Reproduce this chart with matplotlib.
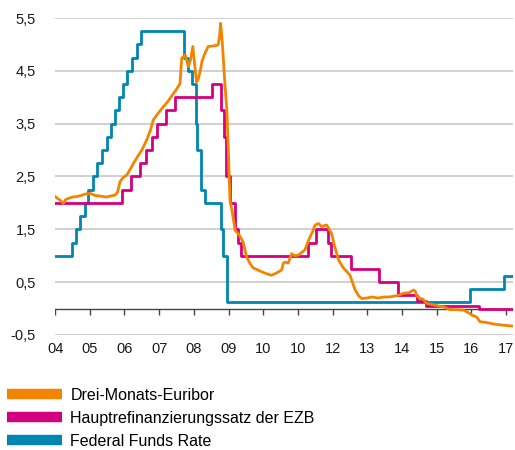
import matplotlib
matplotlib.use("Agg")
import matplotlib.pyplot as plt
from matplotlib.lines import Line2D

plt.rcParams["font.family"] = ["Liberation Sans Narrow", "Liberation Sans", "DejaVu Sans"]

# Federal Funds Rate (target, step changes as decimal years)
fed_x = [2004.00, 2004.49, 2004.61, 2004.72, 2004.86, 2004.96, 2005.09, 2005.22,
         2005.34, 2005.49, 2005.61, 2005.72, 2005.84, 2005.96, 2006.08, 2006.22,
         2006.36, 2006.49, 2007.71, 2007.83, 2007.95, 2008.06, 2008.08, 2008.21,
         2008.33, 2008.77, 2008.83, 2008.96, 2015.96, 2016.95, 2017.20]
fed_y = [1.00, 1.25, 1.50, 1.75, 2.00, 2.25, 2.50, 2.75,
         3.00, 3.25, 3.50, 3.75, 4.00, 4.25, 4.50, 4.75,
         5.00, 5.25, 4.75, 4.50, 4.25, 3.50, 3.00, 2.25,
         2.00, 1.50, 1.00, 0.125, 0.375, 0.625, 0.625]

# Hauptrefinanzierungssatz der EZB
ecb_x = [2004.00, 2005.93, 2006.18, 2006.45, 2006.61, 2006.78, 2006.94, 2007.20,
         2007.45, 2008.52, 2008.79, 2008.87, 2008.94, 2009.05, 2009.19, 2009.27,
         2009.36, 2011.28, 2011.53, 2011.86, 2011.95, 2012.52, 2013.35, 2013.87,
         2014.44, 2014.69, 2016.21, 2017.20]
ecb_y = [2.00, 2.25, 2.50, 2.75, 3.00, 3.25, 3.50, 3.75,
         4.00, 4.25, 3.75, 3.25, 2.50, 2.00, 1.50, 1.25,
         1.00, 1.25, 1.50, 1.25, 1.00, 0.75, 0.50, 0.25,
         0.15, 0.05, 0.00, 0.00]

# Drei-Monats-Euribor
eur_x = [2004.00, 2004.08, 2004.15, 2004.24, 2004.30, 2004.40, 2004.50, 2004.62,
         2004.75, 2004.88, 2005.01, 2005.15, 2005.30, 2005.49, 2005.60, 2005.73,
         2005.80, 2005.87, 2005.95, 2006.07, 2006.15, 2006.26, 2006.40, 2006.50,
         2006.64, 2006.75, 2006.83, 2006.95, 2007.12, 2007.25, 2007.41, 2007.50,
         2007.60, 2007.62, 2007.65, 2007.70, 2007.75, 2007.80, 2007.84, 2007.90,
         2007.97, 2008.01, 2008.05, 2008.08, 2008.13, 2008.20, 2008.23, 2008.30,
         2008.41, 2008.55, 2008.70, 2008.74, 2008.77, 2008.80, 2008.83, 2008.89,
         2008.95, 2009.00, 2009.04, 2009.10, 2009.19, 2009.30, 2009.42, 2009.52,
         2009.62, 2009.71, 2009.91, 2010.05, 2010.24, 2010.40, 2010.53, 2010.58,
         2010.63, 2010.72, 2010.82, 2010.90, 2011.01, 2011.10, 2011.20, 2011.35,
         2011.42, 2011.49, 2011.59, 2011.69, 2011.76, 2011.83, 2011.97, 2012.05,
         2012.17, 2012.30, 2012.41, 2012.50, 2012.58, 2012.65, 2012.75, 2012.84,
         2013.00, 2013.13, 2013.30, 2013.50, 2013.65, 2013.89, 2014.04, 2014.20,
         2014.33, 2014.38, 2014.42, 2014.52, 2014.60, 2014.71, 2014.85, 2015.05,
         2015.20, 2015.38, 2015.55, 2015.77, 2015.90, 2016.00, 2016.15, 2016.25,
         2016.40, 2016.63, 2016.85, 2017.00, 2017.16]
eur_y = [2.12, 2.08, 2.05, 1.99, 2.06, 2.09, 2.11, 2.12,
         2.14, 2.17, 2.18, 2.14, 2.13, 2.11, 2.13, 2.15,
         2.20, 2.40, 2.47, 2.53, 2.62, 2.75, 2.90, 3.00,
         3.19, 3.38, 3.57, 3.68, 3.82, 3.92, 4.07, 4.15,
         4.26, 4.45, 4.74, 4.77, 4.80, 4.68, 4.58, 4.70,
         4.96, 4.70, 4.45, 4.29, 4.35, 4.55, 4.67, 4.80,
         4.96, 4.97, 4.99, 5.15, 5.40, 5.20, 4.93, 4.30,
         3.76, 2.90, 2.05, 1.85, 1.48, 1.40, 1.26, 0.98,
         0.85, 0.77, 0.71, 0.67, 0.63, 0.68, 0.73, 0.86,
         0.88, 0.86, 1.04, 1.00, 1.01, 1.06, 1.11, 1.36,
         1.45, 1.58, 1.61, 1.55, 1.57, 1.58, 1.42, 1.20,
         0.92, 0.78, 0.70, 0.63, 0.48, 0.35, 0.24, 0.19,
         0.20, 0.22, 0.20, 0.22, 0.22, 0.25, 0.29, 0.30,
         0.35, 0.33, 0.25, 0.19, 0.18, 0.10, 0.08, 0.05,
         0.03, -0.02, -0.02, -0.03, -0.07, -0.12, -0.16, -0.25,
         -0.26, -0.29, -0.31, -0.32, -0.33]

years = list(range(2004, 2018))
year_labels = ["04", "05", "06", "07", "08", "09", "10", "10", "12", "13", "14", "15", "16", "17"]
y_ticks = [-0.5, 0.5, 1.5, 2.5, 3.5, 4.5, 5.5]
y_labels = ["-0,5", "0,5", "1,5", "2,5", "3,5", "4,5", "5,5"]

series_names = ["Drei-Monats-Euribor", "Hauptrefinanzierungssatz der EZB", "Federal Funds Rate"]
colors = ["#F28500", "#D5007F", "#0086B0"]

fig = plt.figure(figsize=(5.15, 4.5), dpi=100)
ax = fig.add_axes([0.107, 0.2556, 0.8885, 0.7044])

ax.step(fed_x, fed_y, where="post", color=colors[2], lw=2.0, zorder=3)
ax.step(ecb_x, ecb_y, where="post", color=colors[1], lw=2.0, zorder=4)
ax.plot(eur_x, eur_y, color=colors[0], lw=2.0, zorder=5)

ax.set_xlim(2004, 2017.19)
ax.set_ylim(-0.5, 5.5)
ax.set_yticks(y_ticks)
ax.set_yticklabels(y_labels)
ax.set_xticks(years)
ax.set_xticklabels(year_labels)
ax.tick_params(axis="both", length=0, labelsize=10.5, colors="#1a1a1a")
ax.tick_params(axis="x", pad=5)
ax.tick_params(axis="y", pad=14)
ax.grid(axis="y", color="#c8c8c8", lw=1.2)
ax.set_axisbelow(True)
for side in ["left", "right", "top", "bottom"]:
    ax.spines[side].set_visible(False)

ax.axhline(0, color="#444444", lw=1.0, zorder=2)
ax.vlines(years, -0.13, 0, color="#444444", lw=1.0, zorder=2)

handles = [Line2D([0], [0], color=c, lw=7.5, solid_capstyle="butt") for c in colors]
fig.legend(handles, series_names, loc="upper left", bbox_to_anchor=(0.014, 0.138),
           frameon=False, fontsize=11.5, handlelength=3.4, handletextpad=0.55,
           labelspacing=0.5, borderpad=0, borderaxespad=0)

fig.savefig("out.png", dpi=100)
